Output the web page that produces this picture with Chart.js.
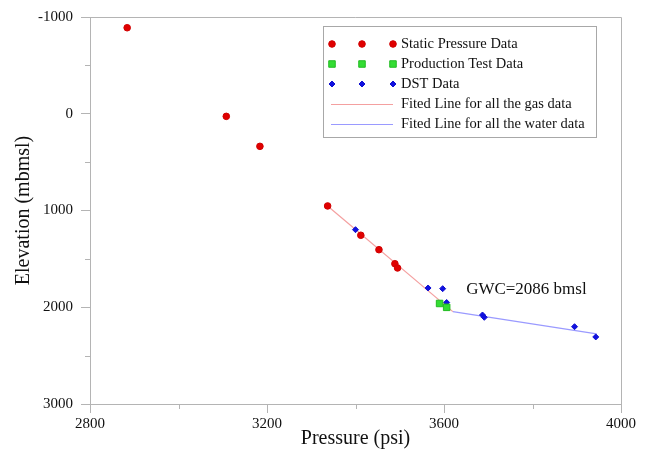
<!DOCTYPE html>
<html>
<head>
<meta charset="utf-8">
<script src="https://cdn.jsdelivr.net/npm/chart.js@4.4.1/dist/chart.umd.min.js"></script>
<style>
  body { margin: 0; background: #fff; }
  #wrap { width: 646px; height: 463px; position: relative; }
</style>
</head>
<body>
<div id="wrap"><canvas id="gwcChart"></canvas></div>
<script>
// pressure (psi) / elevation (mbmsl)
const staticP    = [2884, 3108, 3184, 3337, 3412, 3453, 3489, 3495];
const staticElev = [-889, 27, 337, 953, 1256, 1405, 1550, 1594];
const prodP      = [3590, 3606];
const prodElev   = [1961, 2001];
const dstP       = [3400, 3564, 3597, 3606, 3687, 3691, 3895, 3943];
const dstElev    = [1198, 1801, 1808, 1951, 2080, 2104, 2201, 2307];
const gasFitP    = [3337, 3620];
const gasFitElev = [953, 2045];
const waterFitP    = [3620, 3945];
const waterFitElev = [2045, 2276];

const xTicks = [2800, 3200, 3600, 4000];
const xMinor = [3000, 3400, 3800];
const yTicks = [-1000, 0, 1000, 2000, 3000];
const yMinor = [-500, 500, 1500, 2500];

const gwcLabel = { p: 3650, elev: 1815, text: 'GWC=2086 bmsl' };

const pts = (xs, ys) => xs.map((x, i) => ({ x, y: ys[i] }));

const axisGray = '#b4b4b4';
const serif = 'Liberation Serif';

// minor ticks, frame, legend and GWC note
const extras = {
  id: 'extras',
  afterDraw(chart) {
    const { ctx, chartArea: a, scales: { x, y } } = chart;
    ctx.save();
    ctx.strokeStyle = axisGray;
    ctx.lineWidth = 1;
    ctx.beginPath();
    ctx.moveTo(a.left, a.top + 0.5);
    ctx.lineTo(a.right + 0.5, a.top + 0.5);
    ctx.lineTo(a.right + 0.5, a.bottom);
    yMinor.forEach(v => {
      const py = Math.round(y.getPixelForValue(v)) + 0.5;
      ctx.moveTo(a.left - 5, py); ctx.lineTo(a.left, py);
    });
    xMinor.forEach(v => {
      const px = Math.round(x.getPixelForValue(v)) + 0.5;
      ctx.moveTo(px, a.bottom); ctx.lineTo(px, a.bottom + 5);
    });
    ctx.stroke();

    // legend
    const lx = 323, ly = 26, lw = 273, lh = 111;
    ctx.fillStyle = '#fff';
    ctx.fillRect(lx, ly, lw, lh);
    ctx.strokeStyle = '#a8a8a8';
    ctx.strokeRect(lx + 0.5, ly + 0.5, lw, lh);
    const cols = [332, 362, 393];
    ctx.font = '14.5px "' + serif + '"';
    ctx.textBaseline = 'middle';
    chart.data.datasets.forEach((ds, i) => {
      const ry = 44 + i * 20;
      if (ds.showLine) {
        ctx.strokeStyle = ds.borderColor;
        ctx.lineWidth = 1;
        ctx.beginPath();
        ctx.moveTo(331, ry + 0.5); ctx.lineTo(393, ry + 0.5);
        ctx.stroke();
      } else {
        cols.forEach(cx => {
          ctx.fillStyle = ds.pointBackgroundColor;
          ctx.strokeStyle = ds.pointBorderColor;
          Chart.helpers.drawPoint(ctx, {
            pointStyle: ds.pointStyle, radius: ds.pointRadius, rotation: 0, borderWidth: 1
          }, cx, ry);
        });
      }
      ctx.fillStyle = '#111';
      ctx.fillText(ds.label, 401, ry);
    });

    ctx.font = '17px "' + serif + '"';
    ctx.fillStyle = '#111';
    ctx.fillText(gwcLabel.text, x.getPixelForValue(gwcLabel.p), y.getPixelForValue(gwcLabel.elev));
    ctx.restore();
  }
};

const ctx = document.getElementById('gwcChart').getContext('2d');
new Chart(ctx, {
  type: 'scatter',
  data: {
    datasets: [
      {
        label: 'Static Pressure Data',
        data: pts(staticP, staticElev),
        pointStyle: 'circle', pointRadius: 3.3,
        pointBackgroundColor: '#e00000', pointBorderColor: '#d00000'
      },
      {
        label: 'Production Test Data',
        data: pts(prodP, prodElev),
        pointStyle: 'rect', pointRadius: 4.6,
        pointBackgroundColor: '#33dd33', pointBorderColor: '#22bb22'
      },
      {
        label: 'DST Data',
        data: pts(dstP, dstElev),
        pointStyle: 'rectRot', pointRadius: 3,
        pointBackgroundColor: '#1010e0', pointBorderColor: '#1010d0'
      },
      {
        label: 'Fited Line for all the gas data',
        data: pts(gasFitP, gasFitElev),
        showLine: true, borderColor: '#f4a0a0', borderWidth: 1.2,
        pointRadius: 0
      },
      {
        label: 'Fited Line for all the water data',
        data: pts(waterFitP, waterFitElev),
        showLine: true, borderColor: '#9a9aff', borderWidth: 1.2,
        pointRadius: 0
      }
    ]
  },
  options: {
    responsive: true,
    maintainAspectRatio: false,
    animation: false,
    layout: { padding: { top: 17, right: 25, left: 0, bottom: 0 } },
    plugins: { legend: { display: false }, tooltip: { enabled: false } },
    scales: {
      x: {
        type: 'linear', min: 2800, max: 4000,
        afterBuildTicks: s => { s.ticks = xTicks.map(v => ({ value: v })); },
        afterFit: s => { s.height = 59; },
        grid: { drawOnChartArea: false, tickLength: 9, tickColor: axisGray },
        border: { color: axisGray },
        ticks: { callback: v => String(v), color: '#111', padding: 2, maxRotation: 0,
                 font: { family: serif, size: 15 } },
        title: { display: true, text: 'Pressure (psi)', color: '#111',
                 font: { family: serif, size: 20 }, padding: { top: 0, bottom: 12 } }
      },
      y: {
        type: 'linear', min: -1000, max: 3000, reverse: true,
        afterBuildTicks: s => { s.ticks = yTicks.map(v => ({ value: v })); },
        afterFit: s => { s.width = 90; },
        grid: { drawOnChartArea: false, tickLength: 9, tickColor: axisGray },
        border: { color: axisGray },
        ticks: { callback: v => String(v), color: '#111', padding: 8,
                 font: { family: serif, size: 15 } },
        title: { display: true, text: 'Elevation (mbmsl)', color: '#111',
                 font: { family: serif, size: 20 }, padding: { top: 12, bottom: 0 } }
      }
    }
  },
  plugins: [extras]
});
</script>
</body>
</html>
